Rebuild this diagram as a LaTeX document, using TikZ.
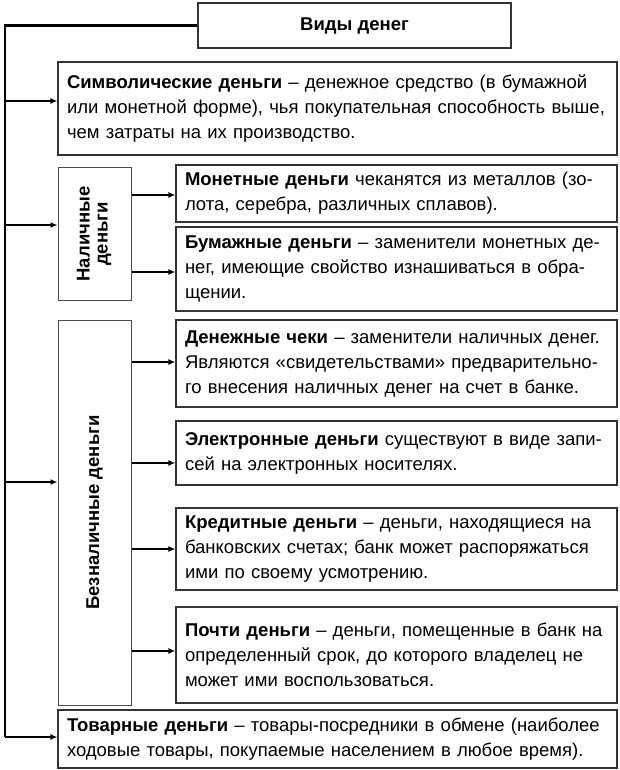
\documentclass[tikz,border=0pt]{standalone}
\usepackage{fontspec}
\usepackage{graphicx}
\setmainfont{Liberation Sans}
\usetikzlibrary{arrows.meta}

\begin{document}
\begin{tikzpicture}[
    x=1pt, y=-1pt,
    >={Latex[length=7pt,width=6pt]},
    box/.style={
        draw=black!80,
        line width=1.2pt,
        inner xsep=9pt,
        inner ysep=0pt,
        align=left,
        font=\fontsize{18.5}{25}\selectfont
    },
    widebox/.style={
        box,
        text width=541pt
    },
    itembox/.style={
        box,
        text width=423pt
    },
    groupbox/.style={
        draw=black!70,
        line width=1pt,
        minimum width=73pt,
        inner sep=0pt,
        font=\fontsize{18.5}{20}\selectfont\bfseries
    },
    trunk/.style={
        line width=2.6pt
    },
    arrow/.style={
        ->,
        line width=1.6pt
    }
]

\useasboundingbox (0,0) rectangle (620,770);

% Horizontal positions
\def\TrunkX{5}
\def\WideX{337.5}
\def\GroupX{94.5}
\def\ItemX{396.5}

% ==================================================
% Title and top level
% ==================================================

\node[box, align=center, font=\fontsize{18.5}{20}\selectfont\bfseries,
      minimum width=313pt, minimum height=45pt] (title) at (354.5,25.5)
    {Виды денег};

\node[widebox, minimum height=93pt] (symb) at (\WideX,108.5)
    {\textbf{Символические деньги} – денежное средство (в бумажной\\
     или монетной форме), чья покупательная способность выше,\\
     чем затраты на их производство.};

\node[groupbox, minimum height=132pt] (nal) at (\GroupX,234)
    {\rotatebox{90}{\begin{tabular}{@{}c@{}}Наличные\\[-2pt]деньги\end{tabular}}};

\node[groupbox, minimum height=385pt] (beznal) at (\GroupX,512.5)
    {\rotatebox{90}{Безналичные деньги}};

\node[widebox, minimum height=58pt] (tovar) at (\WideX,739)
    {\textbf{Товарные деньги} – товары-посредники в обмене (наиболее\\
     ходовые товары, покупаемые населением в любое время).};

% ==================================================
% Cash money
% ==================================================

\node[itembox, minimum height=57pt] (monet) at (\ItemX,193.5)
    {\textbf{Монетные деньги} чеканятся из металлов (зо-\\
     лота, серебра, различных сплавов).};

\node[itembox, minimum height=84pt] (bumazh) at (\ItemX,269)
    {\textbf{Бумажные деньги} – заменители монетных де-\\
     нег, имеющие свойство изнашиваться в обра-\\
     щении.};

% ==================================================
% Non-cash money
% ==================================================

\node[itembox, minimum height=87pt] (cheki) at (\ItemX,363.5)
    {\textbf{Денежные чеки} – заменители наличных денег.\\
     Являются «свидетельствами» предварительно-\\
     го внесения наличных денег на счет в банке.};

\node[itembox, minimum height=64pt] (elektr) at (\ItemX,453)
    {\textbf{Электронные деньги} существуют в виде запи-\\
     сей на электронных носителях.};

\node[itembox, minimum height=82pt] (kredit) at (\ItemX,549)
    {\textbf{Кредитные деньги} – деньги, находящиеся на\\
     банковских счетах; банк может распоряжаться\\
     ими по своему усмотрению.};

\node[itembox, minimum height=96pt] (pochti) at (\ItemX,655)
    {\textbf{Почти деньги} – деньги, помещенные в банк на\\
     определенный срок, до которого владелец не\\
     может ими воспользоваться.};

% ==================================================
% Connectors
% ==================================================

% Trunk from the title down to the last box
\coordinate (trunkend) at (\TrunkX,737);
\draw[trunk] (title.west) -| (trunkend);

% Trunk to the top level boxes
\draw[arrow] (\TrunkX,101) -- (symb.west |- 0,101);
\draw[arrow] (\TrunkX,225) -- (nal.west |- 0,225);
\draw[arrow] (\TrunkX,482) -- (beznal.west |- 0,482);
\draw[arrow] (trunkend) -- (tovar.west |- trunkend);

% Cash money to its kinds
\draw[arrow] (nal.east |- 0,195) -- (monet.west |- 0,195);
\draw[arrow] (nal.east |- 0,272) -- (bumazh.west |- 0,272);

% Non-cash money to its kinds
\draw[arrow] (beznal.east |- 0,362) -- (cheki.west |- 0,362);
\draw[arrow] (beznal.east |- 0,463) -- (elektr.west |- 0,463);
\draw[arrow] (beznal.east |- 0,549) -- (kredit.west |- 0,549);
\draw[arrow] (beznal.east |- 0,651) -- (pochti.west |- 0,651);

\end{tikzpicture}
\end{document}
